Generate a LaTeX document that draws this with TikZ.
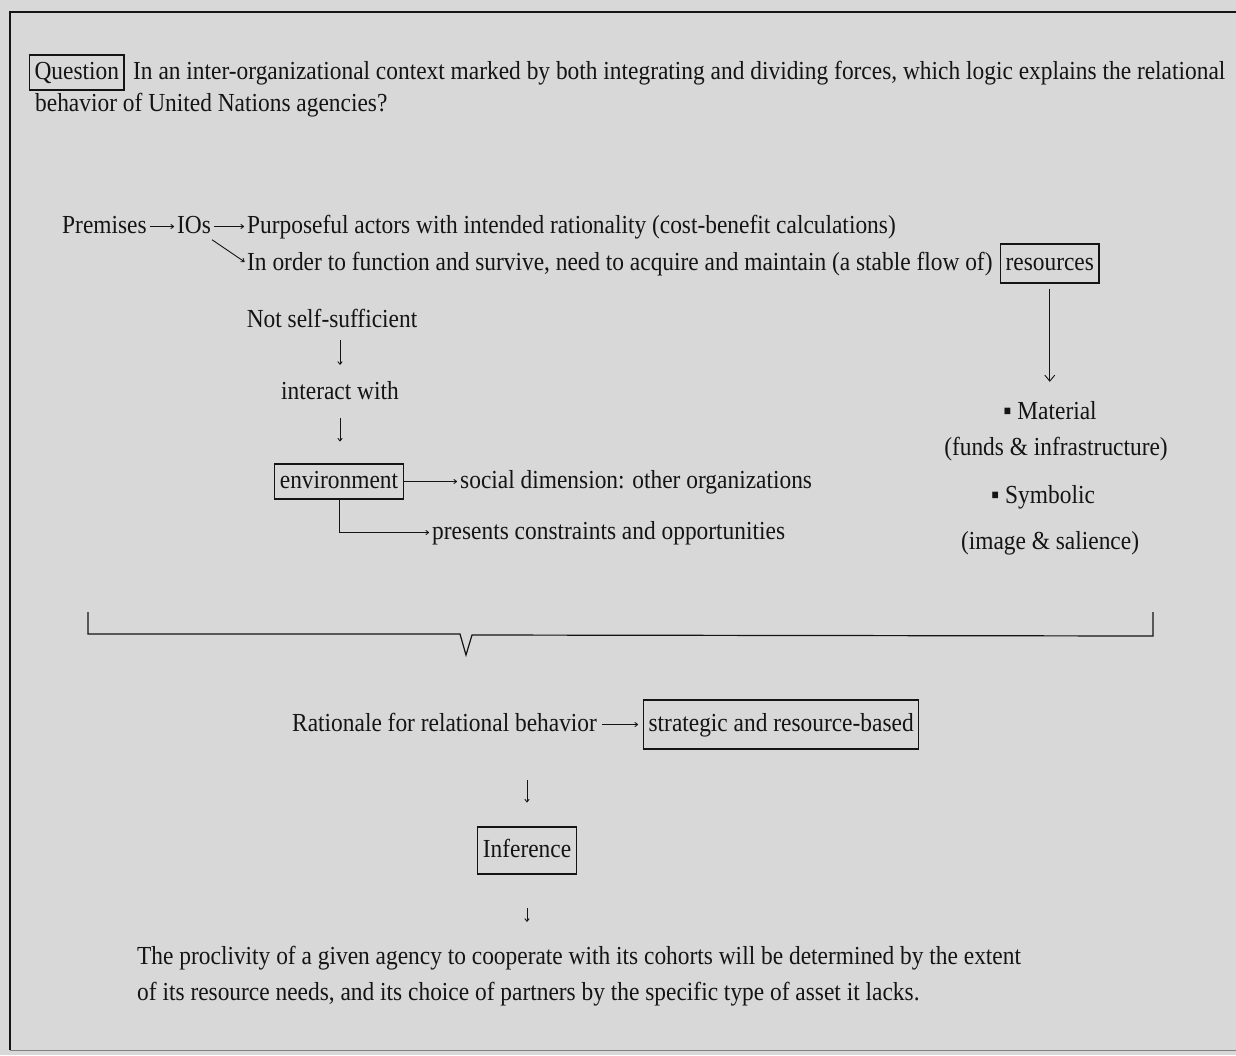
\documentclass[tikz,border=0pt]{standalone}
\usepackage{fontspec}
\setmainfont{Liberation Serif}[FakeStretch=0.9]
\usetikzlibrary{arrows.meta}
\definecolor{bg}{RGB}{216,216,216}
\definecolor{ink}{RGB}{20,20,20}
\begin{document}
\begin{tikzpicture}[x=1pt,y=-1pt,
  font=\fontsize{26}{32}\selectfont,
  txt/.style={inner sep=0pt, anchor=base west, text height=19pt, text depth=6pt, text=ink},
  ctxt/.style={txt, anchor=base},
  box/.style={draw=ink, line width=1.2pt, inner xsep=5pt, inner ysep=5pt, text height=19pt, text depth=6pt, anchor=base west, text=ink},
  arr/.style={draw=ink, line width=0.9pt, -{To[length=3.5pt,width=5pt]}},
  bigarr/.style={draw=ink, line width=0.9pt, -{Straight Barb[length=6pt,width=10pt]}}]
\fill[bg] (0,0) rectangle (1236,1055);
\useasboundingbox (0,0) rectangle (1236,1055);
% frame
\draw[line width=1.6pt, ink] (1240,12) -- (10,12) -- (10,1050);
\draw[line width=1pt, gray] (10,1050) -- (1240,1050);
% question
\node[box] (q) at (29,79) {Question};
\node[txt] (q1) at (133,79) {In an inter-organizational context marked by both integrating and dividing forces, which logic explains the relational};
\node[txt] (q2) at (35,111) {behavior of United Nations agencies?};
% premises
\node[txt] (prem) at (62,233) {Premises};
\node[txt] (ios) at (177,233) {IOs};
\node[txt] (purp) at (247,233) {Purposeful actors with intended rationality (cost-benefit calculations)};
\node[txt] (order) at (247,270) {In order to function and survive, need to acquire and maintain (a stable flow of)};
\node[box, inner ysep=7pt] (res) at (1000,270) {resources};
\draw[arr, shorten <=3pt, shorten >=3pt] (prem.east) -- (ios.west);
\draw[arr, shorten <=3pt, shorten >=3pt] (ios.east) -- (purp.west);
\draw[arr, shorten <=1pt, shorten >=3pt] (ios.south east) -- (order.west);
% resources
\node[ctxt] (mat) at (1050,419) {▪ Material};
\node[ctxt] (funds) at (1056,455) {(funds \& infrastructure)};
\node[ctxt] (sym) at (1043,503) {▪ Symbolic};
\node[ctxt] (img) at (1050,549) {(image \& salience)};
\draw[bigarr, shorten <=5pt, shorten >=18pt] (res.south) -- (res.south |- mat.north);
% left chain
\node[ctxt] (nss) at (332,327) {Not self-sufficient};
\node[ctxt] (inter) at (340,399) {interact with};
\node[box, anchor=base] (env) at (339,488) {environment};
\draw[arr, shorten <=7pt, shorten >=15pt] (inter.north |- nss.south) -- (inter.north);
\draw[arr, shorten <=13pt, shorten >=22pt] (inter.south) -- (inter.south |- env.north);
\node[txt] (soc) at (460,488) {social dimension: other organizations};
\node[txt] (pres) at (432,539) {presents constraints and opportunities};
\draw[arr, shorten >=3pt] (env.east) -- (soc.west);
\draw[arr, shorten >=3pt] (env.south) |- (pres.west);
% brace
\draw[ink, line width=1.2pt] (88,612) -- (88,634) -- (460,634) -- (466,655) -- (472,635) -- (1153,636) -- (1153,612);
% rationale
\node[txt] (rat) at (292,731) {Rationale for relational behavior};
\node[box, inner ysep=12pt] (strat) at (643,731) {strategic and resource-based};
\draw[arr, shorten <=5pt, shorten >=5pt] (rat.east) -- (strat.west);
\node[box, anchor=base, inner ysep=11pt] (inf) at (527,857) {Inference};
\draw[arr, shorten <=43pt, shorten >=24pt] (inf.north |- rat.south) -- (inf.north);
\node[txt] (fin1) at (137,964) {The proclivity of a given agency to cooperate with its cohorts will be determined by the extent};
\node[txt] (fin2) at (137,1000) {of its resource needs, and its choice of partners by the specific type of asset it lacks.};
\draw[arr, shorten <=33pt, shorten >=23pt] (inf.south) -- (inf.south |- fin1.north);
\end{tikzpicture}
\end{document}
